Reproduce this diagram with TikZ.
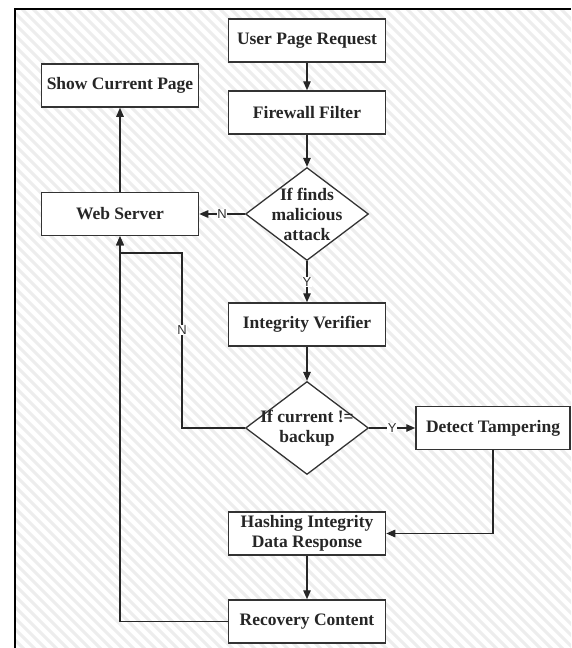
\documentclass[tikz,border=0pt]{standalone}
\usepackage{fontspec}
\setmainfont{Liberation Serif}
\newfontfamily\lblfont{Liberation Sans}
\usetikzlibrary{shapes.geometric, arrows.meta, positioning}

\begin{document}
\begin{tikzpicture}[x=1pt, y=-1pt,
  box/.style={draw=black!80, line width=1.5pt, fill=white, minimum width=157pt, minimum height=43pt, inner sep=0pt, font=\fontsize{17.5}{20}\selectfont\bfseries, align=center, text=black!85},
  dec/.style={draw=black!80, line width=1.3pt, fill=white, diamond, minimum width=123pt, minimum height=93pt, inner sep=0pt},
  dectext/.style={font=\fontsize{17.5}{20}\selectfont\bfseries, align=center, text=black!85},
  arr/.style={draw=black!85, line width=1.3pt, -{Triangle[length=9pt, width=7.5pt]}},
  lbl/.style={font=\lblfont\fontsize{13}{14}\selectfont, fill=white, inner sep=0.6pt, text=black!80}
]
  \useasboundingbox (0,0) rectangle (571,648);
  \fill[white] (0,0) rectangle (571,648);
  \begin{scope}
    \clip (15,9) rectangle (571,648);
    \foreach \c in {-660,-649,...,571}
      \draw[black!7, line width=3pt] (\c,9) -- ++(680,680);
  \end{scope}
  \draw[line width=2.5pt] (15,648) -- (15,9) -- (571,9);

  \node[box] (req) at (307,40.5) {User Page Request};
  \node[box] (fw) at (307,112.5) {Firewall Filter};
  \node[dec, label={[dectext]center:If finds\\malicious\\attack}] (mal) at (307,214) {};
  \node[box] (web) at (120,214) {Web Server};
  \node[box] (show) at (120,85.5) {Show Current Page};
  \node[box] (ver) at (307,324.5) {Integrity Verifier};
  \node[dec, label={[dectext]center:If current !=\\backup}] (cur) at (307,428) {};
  \node[box, minimum width=154pt] (tam) at (493,428) {Detect Tampering};
  \node[box] (hash) at (307,533.5) {Hashing Integrity\\Data Response};
  \node[box] (rec) at (307,621.5) {Recovery Content};
  \coordinate (nbend) at (182,253);

  \draw[arr] (req) -- (fw);
  \draw[arr] (fw) -- (mal);
  \draw[arr] (mal) -- node[lbl]{N} (web);
  \draw[arr] (mal) -- node[lbl]{Y} (ver);
  \draw[arr] (ver) -- (cur);
  \draw[arr] (cur) -- node[lbl]{Y} (tam);
  \draw[arr] (cur.west) -| node[lbl, pos=0.78]{N} (nbend) -| (web.south);
  \draw[arr] (rec.west) -| (web.south);
  \draw[arr] (tam.south) |- (hash.east);
  \draw[arr] (hash) -- (rec);
  \draw[arr] (web) -- (show);
\end{tikzpicture}
\end{document}
